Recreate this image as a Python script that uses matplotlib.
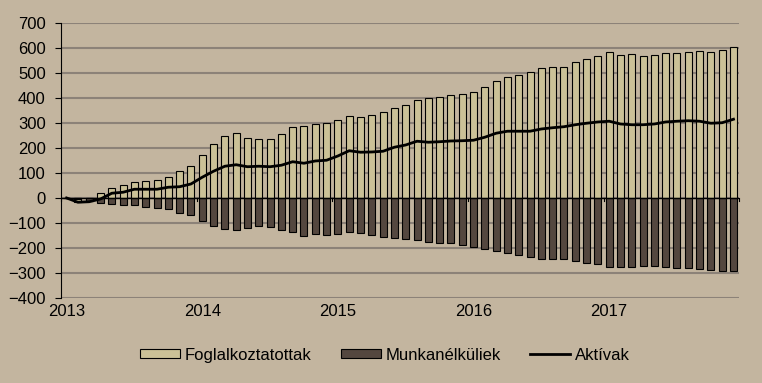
import numpy as np
import matplotlib.pyplot as plt
from matplotlib.patches import Patch
from matplotlib.lines import Line2D

plt.rcParams['font.family'] = ['Liberation Sans', 'DejaVu Sans']

# havi adatok 2013 jan - 2017 dec
years = ['2013', '2014', '2015', '2016', '2017']
foglalkoztatottak = [0, -15, -10, 19, 40, 52, 63, 68, 72, 84, 108, 128,
                     172, 216, 248, 260, 241, 236, 236, 256, 284, 288, 296, 300,
                     312, 328, 324, 332, 344, 360, 372, 392, 400, 404, 412, 416,
                     424, 444, 468, 484, 493, 504, 520, 524, 524, 544, 556, 568,
                     584, 572, 576, 568, 572, 580, 580, 584, 588, 584, 592, 604]
munkanelkuliek = [0, -4, -14, -20, -24, -28, -28, -37, -40, -45, -60, -68,
                  -92, -113, -124, -128, -120, -112, -116, -128, -136, -152, -144, -148,
                  -144, -136, -140, -148, -156, -160, -164, -168, -176, -180, -180, -188,
                  -196, -204, -212, -220, -228, -236, -244, -244, -244, -252, -260, -264,
                  -276, -276, -276, -272, -272, -276, -280, -280, -284, -288, -292, -292]
aktivak = [0, -17, -15, -4, 19, 23, 35, 35, 35, 43, 45, 56,
           83, 107, 127, 133, 125, 127, 125, 131, 145, 139, 148, 151,
           168, 189, 183, 184, 187, 203, 212, 227, 223, 225, 228, 229,
           231, 243, 259, 267, 267, 267, 276, 281, 285, 293, 299, 304,
           307, 296, 293, 293, 296, 304, 307, 309, 307, 299, 301, 315]

bg = '#c3b59f'
light = '#cbc197'
dark = '#54473f'
grid = '#8c8278'

x = np.arange(len(foglalkoztatottak))

fig = plt.figure(figsize=(7.62, 3.83), dpi=100, facecolor=bg)
ax = fig.add_axes([0.080, 0.222, 0.890, 0.718])
ax.set_facecolor(bg)

ax.bar(x, foglalkoztatottak, width=0.62, color=light, edgecolor='black', linewidth=0.8, zorder=3)
ax.bar(x, munkanelkuliek, width=0.62, color=dark, edgecolor='black', linewidth=0.8, zorder=3)
ax.plot(x, aktivak, color='black', linewidth=2, zorder=4)

ax.set_xlim(-0.5, len(x) - 0.5)
ax.set_ylim(-400, 700)
ax.set_yticks(np.arange(-400, 701, 100))
ax.yaxis.grid(True, color=grid, linewidth=1.5, zorder=0)
ax.set_axisbelow(True)
ax.axhline(0, color='black', linewidth=1, zorder=5)

for s in ['top', 'right', 'bottom']:
    ax.spines[s].set_visible(False)
ax.spines['left'].set_color('black')
ax.tick_params(axis='y', length=4, direction='out', labelsize=12, pad=7)

# évcímkék a januári hónap alatt
ax.set_xticks(np.arange(0, len(x), 12))
ax.set_xticklabels(years, fontsize=12)
ax.tick_params(axis='x', length=0, pad=4)

# kis jelek a tengelyen az évek határán
for t in np.arange(-0.5, len(x), 12):
    ax.plot([t, t], [0, -12], color='black', linewidth=0.8, zorder=5, clip_on=False)

handles = [Patch(facecolor=light, edgecolor='black', linewidth=0.8),
           Patch(facecolor=dark, edgecolor='black', linewidth=0.8),
           Line2D([0], [0], color='black', linewidth=2)]
fig.legend(handles, ['Foglalkoztatottak', 'Munkanélküliek', 'Aktívak'],
           loc='center', bbox_to_anchor=(0.505, 0.073), ncol=3, frameon=False,
           fontsize=12, handlelength=2.4, handleheight=0.45, handletextpad=0.3,
           columnspacing=1.75)

fig.savefig('out.png', dpi=100, facecolor=bg)
